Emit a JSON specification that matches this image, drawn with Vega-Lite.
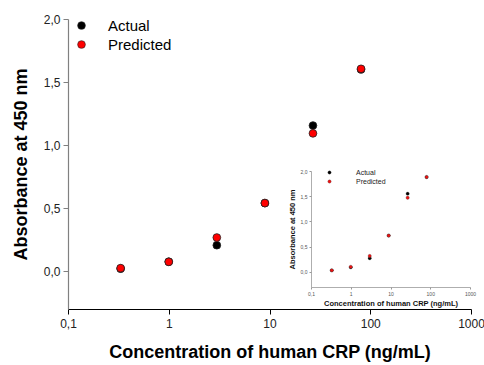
{
  "$schema": "https://vega.github.io/schema/vega-lite/v6.json",
  "width": 403,
  "height": 290,
  "autosize": "none",
  "padding": {"left": 68, "top": 19, "right": 13, "bottom": 56},
  "background": "white",
  "config": {
    "view": {"stroke": null},
    "font": "Liberation Sans",
    "axis": {"grid": false, "labelFont": "Liberation Sans", "titleFont": "Liberation Sans"},
    "legend": {"labelFont": "Liberation Sans"}
  },
  "datasets": {
    "main": [
      {"conc": 0.333, "abs": 0.020, "series": "Actual"},
      {"conc": 1, "abs": 0.075, "series": "Actual"},
      {"conc": 3, "abs": 0.206, "series": "Actual"},
      {"conc": 9, "abs": 0.540, "series": "Actual"},
      {"conc": 27, "abs": 1.155, "series": "Actual"},
      {"conc": 81, "abs": 1.600, "series": "Actual"},
      {"conc": 0.333, "abs": 0.024, "series": "Predicted"},
      {"conc": 1, "abs": 0.074, "series": "Predicted"},
      {"conc": 3, "abs": 0.267, "series": "Predicted"},
      {"conc": 9, "abs": 0.540, "series": "Predicted"},
      {"conc": 27, "abs": 1.093, "series": "Predicted"},
      {"conc": 81, "abs": 1.605, "series": "Predicted"}
    ],
    "inset": [
      {"conc": 0.333, "abs": 0.03, "series": "Actual"},
      {"conc": 1, "abs": 0.09, "series": "Actual"},
      {"conc": 3, "abs": 0.27, "series": "Actual"},
      {"conc": 9, "abs": 0.72, "series": "Actual"},
      {"conc": 27, "abs": 1.55, "series": "Actual"},
      {"conc": 81, "abs": 1.88, "series": "Actual"},
      {"conc": 0.333, "abs": 0.03, "series": "Predicted"},
      {"conc": 1, "abs": 0.10, "series": "Predicted"},
      {"conc": 3, "abs": 0.315, "series": "Predicted"},
      {"conc": 9, "abs": 0.72, "series": "Predicted"},
      {"conc": 27, "abs": 1.47, "series": "Predicted"},
      {"conc": 81, "abs": 1.88, "series": "Predicted"}
    ]
  },
  "layer": [
    {
      "data": {"name": "main"},
      "mark": {"type": "point", "filled": true, "size": 60, "stroke": "#222222", "strokeWidth": 0.8, "opacity": 1},
      "encoding": {
        "x": {
          "field": "conc", "type": "quantitative",
          "scale": {"type": "log", "domain": [0.1, 1000], "nice": false},
          "axis": {
            "values": [0.1, 1, 10, 100, 1000],
            "labelExpr": "replace(format(datum.value, '~g'), '.', ',')",
            "title": "Concentration of human CRP (ng/mL)",
            "titleFontSize": 18, "titleFontWeight": "bold", "titleColor": "#000000",
            "titlePadding": 14,
            "labelFontSize": 12, "labelColor": "#222222", "labelPadding": 4,
            "domainColor": "#000000", "domainWidth": 1.2,
            "tickColor": "#000000", "tickSize": 5, "labelFlush": false
          }
        },
        "y": {
          "field": "abs", "type": "quantitative",
          "scale": {"domain": [-0.3, 2.0], "nice": false, "zero": false},
          "axis": {
            "values": [0, 0.5, 1, 1.5, 2],
            "labelExpr": "replace(format(datum.value, '.1f'), '.', ',')",
            "title": "Absorbance at 450 nm",
            "titleFontSize": 18, "titleFontWeight": "bold", "titleColor": "#000000",
            "titlePadding": 13,
            "labelFontSize": 12, "labelColor": "#222222", "labelPadding": 3,
            "domainColor": "#808080", "domainWidth": 1.2,
            "tickColor": "#808080", "tickSize": 5, "labelFlush": false
          }
        },
        "color": {
          "field": "series", "type": "nominal",
          "scale": {"domain": ["Actual", "Predicted"], "range": ["#000000", "#ff0000"]},
          "legend": {
            "title": null, "orient": "none", "legendX": 6, "legendY": -1,
            "labelFontSize": 15, "labelColor": "#000000", "labelOffset": 19,
            "symbolSize": 60, "symbolType": "circle", "symbolStrokeColor": "#222222", "symbolStrokeWidth": 0.6,
            "rowPadding": 3, "padding": 0
          }
        }
      }
    },
    {
      "data": {"name": "inset"},
      "mark": {"type": "point", "filled": true, "size": 11, "stroke": "#444444", "strokeWidth": 0.3, "opacity": 1},
      "encoding": {
        "x": {
          "field": "conc", "type": "quantitative",
          "scale": {"type": "log", "domain": [0.1, 1000], "nice": false, "range": [243, 402]},
          "axis": {
            "orient": "bottom", "offset": -22,
            "values": [0.1, 1, 10, 100, 1000],
            "labelExpr": "replace(format(datum.value, '~g'), '.', ',')",
            "title": "Concentration of human CRP (ng/mL)",
            "titleFontSize": 7.5, "titleFontWeight": "bold", "titleColor": "#111111",
            "titlePadding": 3,
            "labelFontSize": 5, "labelColor": "#555555", "labelPadding": 2,
            "domainColor": "#999999", "domainWidth": 0.8,
            "tickColor": "#999999", "tickSize": 2, "labelFlush": false
          }
        },
        "y": {
          "field": "abs", "type": "quantitative",
          "scale": {"domain": [-0.3, 2.0], "nice": false, "zero": false, "range": [268, 152]},
          "axis": {
            "orient": "left", "offset": -243,
            "values": [0, 0.5, 1, 1.5, 2],
            "labelExpr": "replace(format(datum.value, '.1f'), '.', ',')",
            "title": "Absorbance at 450 nm",
            "titleFontSize": 7.5, "titleFontWeight": "bold", "titleColor": "#111111",
            "titlePadding": 4,
            "labelFontSize": 5, "labelColor": "#555555", "labelPadding": 2,
            "domainColor": "#999999", "domainWidth": 0.8,
            "tickColor": "#999999", "tickSize": 2, "labelFlush": false
          }
        },
        "color": {
          "field": "series", "type": "nominal",
          "scale": {"domain": ["Actual", "Predicted"], "range": ["#000000", "#ee1111"]},
          "legend": {
            "title": null, "orient": "none", "legendX": 258, "legendY": 150,
            "labelFontSize": 7, "labelColor": "#222222", "labelOffset": 23,
            "symbolSize": 11, "symbolType": "circle", "symbolStrokeColor": "#444444", "symbolStrokeWidth": 0.3,
            "rowPadding": 1, "padding": 0
          }
        }
      }
    }
  ],
  "resolve": {
    "scale": {"x": "independent", "y": "independent", "color": "independent"},
    "axis": {"x": "independent", "y": "independent"},
    "legend": {"color": "independent"}
  }
}
